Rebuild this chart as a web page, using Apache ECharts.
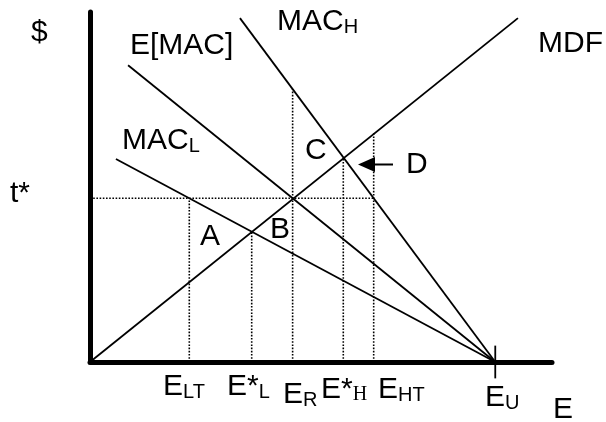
<!DOCTYPE html>
<html>
<head>
<meta charset="utf-8">
<script src="https://cdn.jsdelivr.net/npm/echarts@6/dist/echarts.min.js"></script>
<style>
    html, body { margin: 0; padding: 0; background: #fff; }
    #chart { width: 606px; height: 422px; }
</style>
</head>
<body>
<div id="chart"></div>
<script>
    // curves, as [E, $] end points
    var mdf = [[0, 0], [105.6, 84]];
    var macH = [[37, 84], [100, 0]];
    var eMac = [[9.4, 72.5], [100, 0]];
    var macL = [[6.4, 49.6], [100, 0]];

    // t* level and dotted drop lines (E_LT, E*_L, E_R, E*_H, E_HT)
    var tStar = 40;
    var tStarEnd = 70;
    var dropX = [24.5, 39.9, 50, 62.5, 70];
    var dropTop = [40, 31.9, 66.7, 50, 56];
    var eU = 100;

    var myChart = echarts.init(document.getElementById('chart'));

    var solid = function(data) {
        return {
            type: 'line',
            data: data,
            showSymbol: false,
            silent: true,
            lineStyle: { color: '#000', width: 1.8 }
        };
    };
    var dotted = function(data) {
        return {
            type: 'line',
            data: data,
            showSymbol: false,
            silent: true,
            lineStyle: { color: '#000', width: 1.6, type: [1.6, 1.6] }
        };
    };

    var series = [solid(mdf), solid(macH), solid(eMac), solid(macL)];
    series.push(dotted([[0, tStar], [tStarEnd, tStar]]));
    for (var i = 0; i < dropX.length; i++) {
        series.push(dotted([[dropX[i], 0], [dropX[i], dropTop[i]]]));
    }
    // tick at E_U
    var tick = solid([[eU, -4], [eU, 4]]);
    tick.clip = false;
    series.push(tick);

    var big = { fontSize: 30, lineHeight: 30, fontFamily: 'Liberation Sans', color: '#000', verticalAlign: 'bottom' };
    var sub = { fontSize: 20, lineHeight: 21, fontFamily: 'Liberation Sans', color: '#000', verticalAlign: 'bottom' };
    var subSerif = { fontSize: 20, lineHeight: 21, fontFamily: 'Liberation Serif', color: '#000', verticalAlign: 'bottom' };

    var label = function(x, y, text) {
        return {
            type: 'text',
            x: x,
            y: y + 4,
            silent: true,
            style: {
                text: text,
                align: 'left',
                verticalAlign: 'bottom',
                rich: { a: big, b: sub, s: subSerif }
            }
        };
    };

    var option = {
        animation: false,
        grid: { left: 90, right: 54, top: 12, bottom: 60 },
        xAxis: {
            type: 'value',
            min: 0,
            max: 114,
            axisLine: { show: true, onZero: false, lineStyle: { color: '#000', width: 5 } },
            axisTick: { show: false },
            axisLabel: { show: false },
            splitLine: { show: false }
        },
        yAxis: {
            type: 'value',
            min: 0,
            max: 85.5,
            axisLine: { show: true, onZero: false, lineStyle: { color: '#000', width: 5 } },
            axisTick: { show: false },
            axisLabel: { show: false },
            splitLine: { show: false }
        },
        series: series,
        graphic: [
            label(31, 44, '{a|$}'),
            label(130, 57, '{a|E[MAC]}'),
            label(277, 33, '{a|MAC}{b|H}'),
            label(538, 55, '{a|MDF}'),
            label(122, 152, '{a|MAC}{b|L}'),
            label(10, 205, '{a|t*}'),
            label(200, 248, '{a|A}'),
            label(270, 241, '{a|B}'),
            label(305, 162, '{a|C}'),
            label(406, 176, '{a|D}'),
            label(163, 398, '{a|E}{b|LT}'),
            label(227, 398, '{a|E*}{b|L}'),
            label(283, 406, '{a|E}{b|R}'),
            label(321, 401, '{a|E*}{s|H}'),
            label(378, 401, '{a|E}{b|HT}'),
            label(485, 409, '{a|E}{b|U}'),
            label(553, 421, '{a|E}'),
            {
                type: 'line',
                silent: true,
                shape: { x1: 372, y1: 164.5, x2: 393, y2: 164.5 },
                style: { stroke: '#000', lineWidth: 2 }
            },
            {
                type: 'polygon',
                silent: true,
                shape: { points: [[358, 164.5], [375, 157], [375, 172]] },
                style: { fill: '#000' }
            }
        ]
    };
    myChart.setOption(option);
</script>
</body>
</html>
